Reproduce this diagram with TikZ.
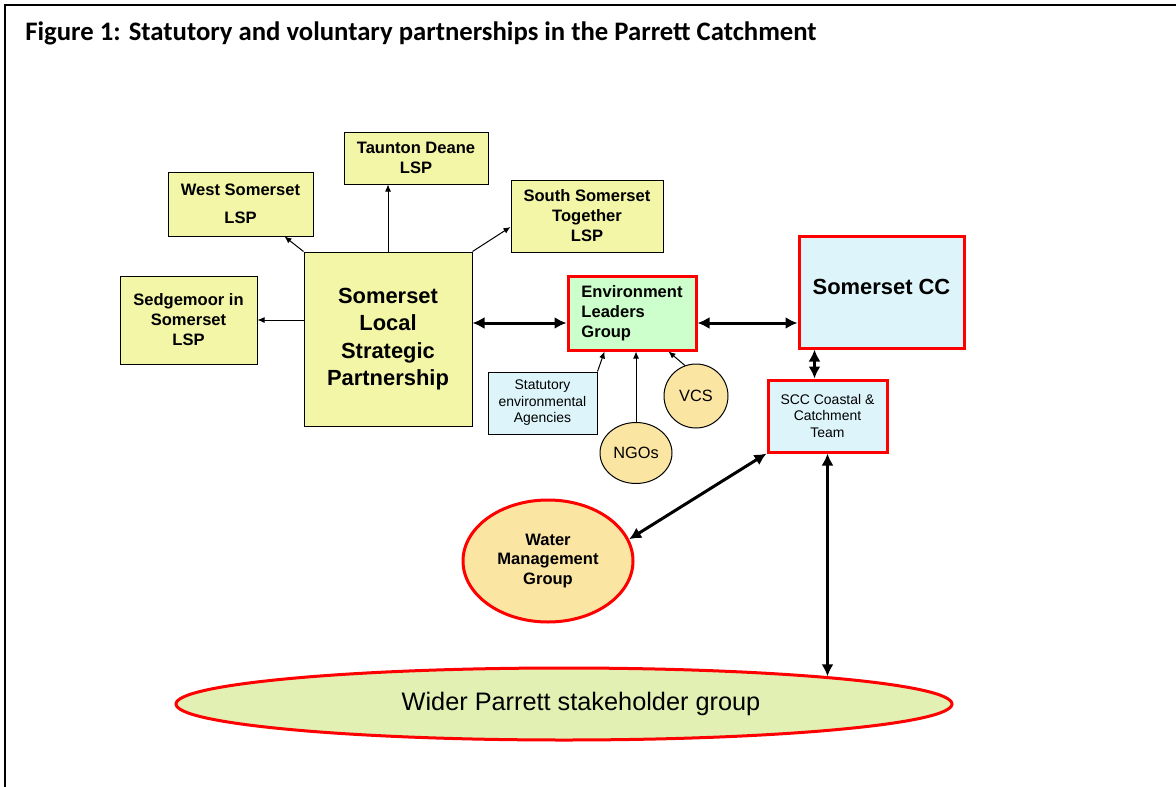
\documentclass[tikz,border=0pt]{standalone}
\usepackage{fontspec}
\setmainfont{Liberation Sans}
\newfontfamily\titlefont{Carlito}
\usepackage{xcolor}
\usetikzlibrary{arrows.meta,shapes,calc}

\definecolor{lspyellow}{RGB}{242,246,166}
\definecolor{elggreen}{RGB}{204,255,204}
\definecolor{ccblue}{RGB}{221,245,250}
\definecolor{circorange}{RGB}{251,229,163}
\definecolor{widergreen}{RGB}{226,240,180}

\tikzset{
  lspbox/.style={draw,fill=lspyellow,line width=0.5bp,inner sep=0pt,align=center,font=\fontsize{8.3}{10}\selectfont\bfseries},
  redbox/.style={draw=red,line width=1.5bp,inner sep=0pt},
  circ/.style={draw,ellipse,fill=circorange,line width=0.5bp,inner sep=0pt,font=\fontsize{8.2}{10}\selectfont},
  thinarr/.style={-{Latex[length=3.5bp,width=3bp]},line width=0.5bp},
  thickarr/.style={{Latex[length=6bp,width=6bp]}-{Latex[length=6bp,width=6bp]},line width=1.5bp},
}

\begin{document}
\begin{tikzpicture}

    \useasboundingbox (0bp,0bp) rectangle (588bp,-393.5bp);
    \draw[line width=1bp] (2.5bp,-393.5bp) -- (2.5bp,-2.25bp) -- (588bp,-2.25bp);
    \node (title) at (12.5bp,-16.5bp)[anchor=west,inner sep=0pt,font=\titlefont\fontsize{13.4}{15}\selectfont\bfseries] {Figure 1: Statutory and voluntary partnerships in the Parrett Catchment};

    \node (taunton) at (208bp,-79bp)[lspbox,minimum width=72bp,minimum height=26bp] {Taunton Deane\\LSP};
    \node (west) at (120.25bp,-102bp)[lspbox,minimum width=72.5bp,minimum height=32bp] {West Somerset\\[4bp]LSP};
    \node (south) at (293.5bp,-108bp)[lspbox,minimum width=76bp,minimum height=36bp] {South Somerset\\Together\\LSP};
    \node (sedge) at (94.25bp,-160bp)[lspbox,minimum width=68.5bp,minimum height=44bp] {Sedgemoor in\\Somerset\\LSP};
    \node (slsp) at (194bp,-169.5bp)[lspbox,minimum width=84bp,minimum height=87bp,font=\fontsize{11}{13.8}\selectfont\bfseries] {Somerset\\Local\\Strategic\\Partnership};

    \node (elg) at (316bp,-156.5bp)[redbox,fill=elggreen,minimum width=64bp,minimum height=37bp,align=left,font=\fontsize{8.3}{10}\selectfont\bfseries] {Environment\\Leaders\\Group};
    \node (cc) at (440.75bp,-146bp)[redbox,fill=ccblue,minimum width=82.5bp,minimum height=56bp,font=\fontsize{11}{13.5}\selectfont\bfseries] {\raisebox{5.5bp}{Somerset CC}};
    \node (team) at (413.75bp,-208bp)[redbox,fill=ccblue,minimum width=59.5bp,minimum height=36bp,align=center,font=\fontsize{7}{8.3}\selectfont] {SCC Coastal \&\\Catchment\\Team};
    \node (stat) at (271.25bp,-201.5bp)[draw,fill=ccblue,line width=0.5bp,minimum width=54.5bp,minimum height=31bp,inner sep=0pt,align=center,font=\fontsize{7}{8.3}\selectfont] {Statutory\\environmental\\Agencies};
    \node (vcs) at (348bp,-198bp)[circ,minimum width=32bp,minimum height=32bp] {VCS};
    \node (ngos) at (318bp,-226.5bp)[circ,minimum width=36bp,minimum height=30.5bp] {NGOs};

    \node (wmg) at (274bp,-280.5bp)[ellipse,draw=red,line width=1.5bp,fill=circorange,minimum width=85bp,minimum height=61bp,inner sep=0pt,align=center,font=\fontsize{8.3}{10}\selectfont\bfseries] {Water\\Management\\Group};
    \node (wider) at (282bp,-352bp)[ellipse,draw=red,line width=1.5bp,fill=widergreen,minimum width=388bp,minimum height=36bp,inner sep=0pt,font=\fontsize{12.7}{15}\selectfont] {\hspace*{17bp}Wider Parrett stakeholder group};

    \draw[thinarr] (slsp.north) -- (slsp.north |- taunton.south);
    \draw[thinarr] (slsp.north west) -- ($(west.south east)+(-14.5bp,0)$);
    \draw[thinarr] (slsp.north east) -- ($(south.west)+(0,-5.5bp)$);
    \draw[thinarr] (slsp.west |- sedge.east) -- (sedge.east);

    \coordinate (mid) at ($(elg.west)+(0,-5bp)$);
    \draw[thickarr] (slsp.east |- mid) -- (mid);
    \draw[thickarr] (elg.east |- mid) -- (cc.west |- mid);
    \coordinate (ccfoot) at ($(cc.south west)+(8.5bp,0)$);
    \draw[thickarr] (ccfoot) -- (ccfoot |- team.north);

    \draw[thinarr] (stat.north east) -- ($(elg.south west)+(19bp,0)$);
    \draw[thinarr] (ngos.north) -- (ngos.north |- elg.south);
    \draw[thinarr] (vcs.110) -- ($(elg.south east)+(-14.5bp,0)$);

    \draw[thickarr] (team.south west) -- (wmg.15);
    \draw[thickarr] (team.south) -- (team.south |- wider.6);
\end{tikzpicture}
\end{document}
